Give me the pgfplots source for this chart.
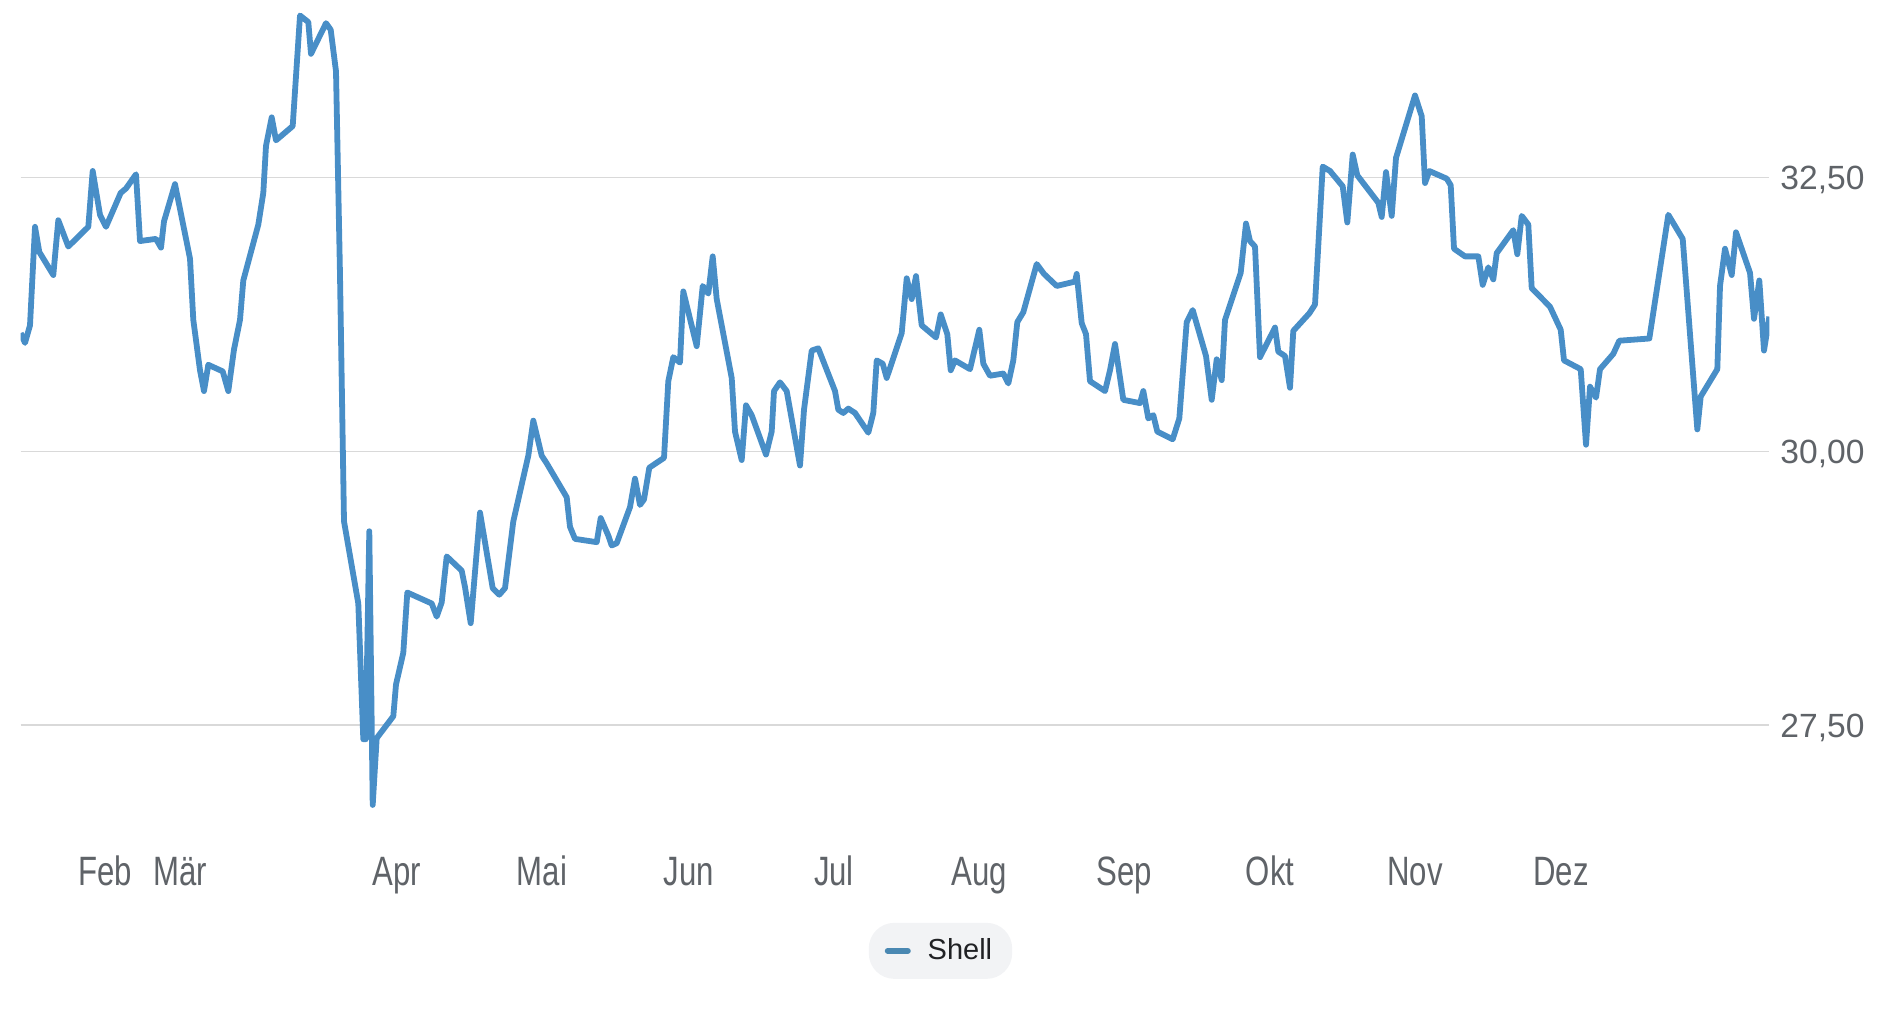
\documentclass[border=0pt]{standalone}
\usepackage{fontspec}
\setmainfont{Liberation Sans}
\newfontfamily\condfont[FakeStretch=0.76]{Liberation Sans}
\usepackage{pgfplots}
\pgfplotsset{compat=1.18}
\definecolor{lineblue}{RGB}{72,142,199}
\definecolor{legblue}{RGB}{74,136,178}
\definecolor{gridgray}{RGB}{217,217,217}
\definecolor{labgray}{RGB}{95,99,104}
\definecolor{pillgray}{RGB}{242,243,245}
\definecolor{legtext}{RGB}{32,33,36}
\begin{document}
\begin{tikzpicture}
\path[use as bounding box] (0,0) rectangle (939.5pt,-504.5pt);
\begin{axis}[
  at={(10.35pt,-1.18pt)}, anchor=north west,
  scale only axis, width=874.3pt, height=410.6pt,
  xmin=20.7, xmax=1769.3, ymin=26.6, ymax=34.1,
  axis line style={draw=none},
  major tick length=0pt,
  xtick={105,180,397,542,689,834,979,1124,1270,1415,1561},
  xticklabels={Feb,Mär,Apr,Mai,Jun,Jul,Aug,Sep,Okt,Nov,Dez},
  xticklabel style={font=\condfont\fontsize{20.5}{24}\selectfont, text=labgray, anchor=base, inner sep=0pt, yshift=-31.2pt},
  ytick={27.5,30,32.5},
  yticklabels={{27,50},{30,00},{32,50}},
  yticklabel pos=right,
  yticklabel style={font=\fontsize{16.8}{20}\selectfont, text=labgray, anchor=base west, inner sep=0pt, xshift=5.35pt, yshift=-6pt},
  ymajorgrids, grid style={gridgray, line width=0.75pt},
  legend style={at={(0.526,-0.155)}, anchor=center, draw=none, fill=pillgray, rounded corners=12.75pt, inner xsep=8pt, inner ysep=6pt, font=\fontsize{14.5}{16}\selectfont, text=legtext},
  legend image code/.code={\draw[legblue, line width=3pt, line cap=round, sharp corners] (0pt,0pt) -- (10pt,0pt); \path (16.5pt,0pt);},
]
\addplot[lineblue, line width=2.9pt, line join=round] coordinates {
(20.7,31.08) (25,30.99) (30,31.15) (35,32.05) (39.3,31.82) (53.3,31.61) (58.3,32.11) (68.3,31.87)
(88.3,32.05) (92.7,32.56) (100,32.16) (106,32.05) (120.7,32.36) (126,32.40) (136,32.53) (140,31.92)
(156,31.94) (161,31.86) (164,32.10) (175,32.44) (190,31.76) (193.3,31.20) (200,30.74) (204,30.55)
(208.3,30.79) (222.7,30.73) (228.3,30.55) (234,30.93) (240,31.20) (243.3,31.56) (258.3,32.07)
(263.3,32.36) (266,32.79) (271.7,33.05) (276,32.84) (292.7,32.97) (300,33.98) (308.3,33.92)
(311,33.63) (326,33.91) (330.7,33.85) (336,33.47) (340,31.61) (344,29.36) (358.3,28.61)
(363.3,27.37) (365.7,27.37) (369.3,29.27) (372.7,26.77) (376.7,27.38) (393.3,27.58) (396,27.87)
(403.3,28.16) (407.3,28.71) (431.7,28.61) (436.7,28.49) (441.7,28.62) (446.7,29.04) (461.7,28.91)
(465,28.76) (470.7,28.43) (480,29.44) (492.7,28.75) (499.3,28.69) (505,28.75) (513.3,29.36)
(528.3,29.96) (533.3,30.28) (541.7,29.96) (546.7,29.89) (566.7,29.58) (570,29.31) (575,29.20)
(596.7,29.17) (600.7,29.39) (608.3,29.23) (611.7,29.14) (616.7,29.16) (630,29.49) (635,29.75)
(640,29.51) (644,29.56) (649.3,29.85) (664,29.94) (668.3,30.64) (673.3,30.86) (680,30.81)
(683.3,31.46) (696.7,30.96) (702.7,31.51) (708.3,31.44) (712.7,31.78) (716.7,31.39) (731.7,30.67)
(735,30.18) (741.7,29.92) (746,30.42) (751.7,30.33) (766,29.97) (771.7,30.18) (774,30.55)
(780,30.63) (786.7,30.55) (800,29.87) (804,30.38) (811.7,30.92) (818.3,30.94) (835,30.55)
(838.3,30.38) (843.3,30.35) (848.3,30.39) (855,30.35) (868.3,30.17) (873.3,30.35) (876.7,30.83)
(882.7,30.80) (886.7,30.67) (901.7,31.08) (906.7,31.58) (911.7,31.39) (916,31.60) (921.7,31.15)
(936,31.04) (940.7,31.25) (947.3,31.07) (950.7,30.74) (955,30.83) (970,30.75) (979.3,31.11)
(983.3,30.80) (990,30.69) (1003.3,30.71) (1008.3,30.62) (1013.3,30.83) (1017.3,31.18) (1023.3,31.27)
(1036.7,31.71) (1044,31.62) (1056.7,31.51) (1075,31.55) (1076.7,31.62) (1081.7,31.17) (1086,31.07)
(1090,30.64) (1105,30.55) (1110,30.74) (1115,30.98) (1123.3,30.47) (1140,30.44) (1143.3,30.55)
(1148.3,30.30) (1153.3,30.33) (1157.3,30.18) (1172.7,30.11) (1179.3,30.30) (1186.7,31.18)
(1192.7,31.29) (1206,30.87) (1211.7,30.47) (1216.7,30.84) (1221.7,30.65) (1225,31.20) (1240.7,31.63)
(1246,32.08) (1250,31.92) (1255,31.87) (1260,30.86) (1275,31.13) (1278.3,30.91) (1285,30.87)
(1290,30.58) (1293.3,31.10) (1309.3,31.26) (1315,31.34) (1322.7,32.60) (1330,32.56) (1342.7,32.42)
(1347.3,32.09) (1352.7,32.71) (1357.3,32.52) (1378.3,32.27) (1381.7,32.14) (1386,32.55) (1391.7,32.15)
(1396,32.68) (1415,33.25) (1421.7,33.06) (1425,32.45) (1429.3,32.56) (1446.7,32.49) (1450.7,32.43)
(1454,31.85) (1465,31.78) (1478.3,31.78) (1482.7,31.52) (1488.3,31.68) (1493.3,31.57) (1496.7,31.81)
(1513.3,32.02) (1517.3,31.80) (1521.7,32.15) (1528.3,32.07) (1531.7,31.49) (1550,31.32) (1560.7,31.11)
(1564,30.83) (1580.7,30.75) (1586,30.06) (1590,30.59) (1596,30.49) (1600,30.75) (1613.3,30.89)
(1619.3,31.01) (1649.3,31.03) (1668.3,32.16) (1682.7,31.94) (1697.3,30.20) (1700.7,30.50)
(1717.3,30.75) (1720,31.51) (1725,31.85) (1731.7,31.61) (1736,32.00) (1750,31.63) (1754,31.21)
(1759.3,31.56) (1764,30.92) (1769.3,31.23)
};
\addlegendentry{Shell}
\end{axis}
\end{tikzpicture}
\end{document}
